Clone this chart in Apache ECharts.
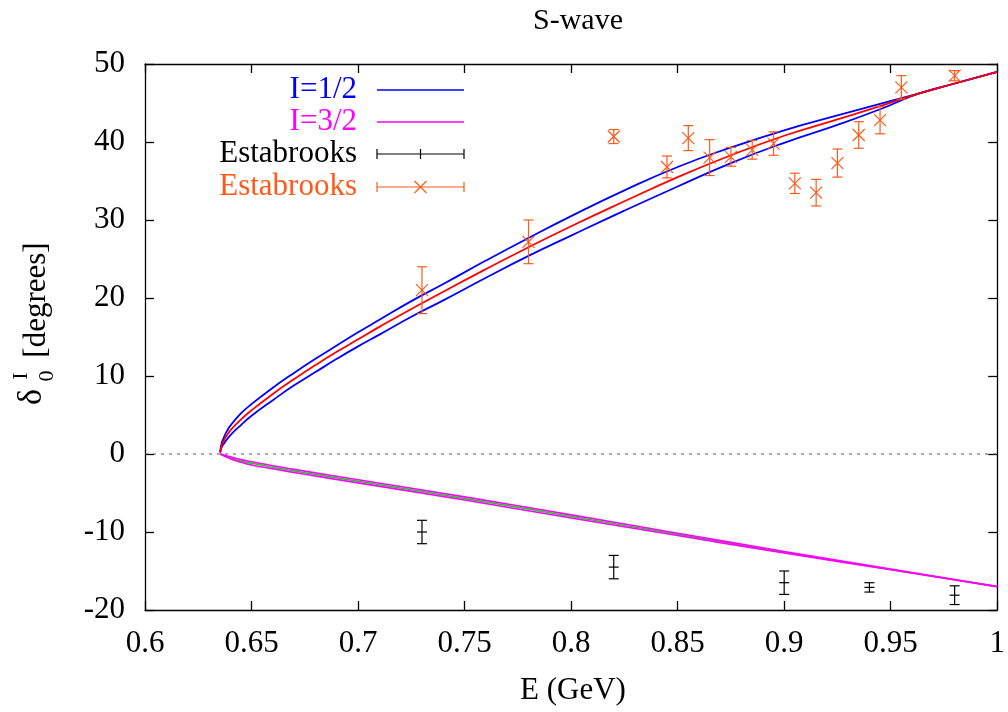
<!DOCTYPE html>
<html>
<head>
<meta charset="utf-8">
<script src="https://cdn.jsdelivr.net/npm/echarts@6/dist/echarts.min.js"></script>
<style>html,body{margin:0;padding:0;background:#fff}#c{width:1008px;height:712px}</style>
</head>
<body>
<div id="c"></div>
<script>
// ---- data ----
const curveE   = [0.6353,0.636,0.637,0.638,0.640,0.645,0.650,0.660,0.670,0.680,0.690,0.700,0.710,0.725,0.740,0.760,0.780,0.800,0.825,0.850,0.875,0.900,0.925,0.945,0.963,0.980,1.000];
const i12Upper = [0.2,1.4,2.1,2.7,3.6,5.2,6.4,8.5,10.4,12.2,13.9,15.6,17.2,19.6,21.8,24.8,27.7,30.5,33.8,36.8,39.3,41.5,43.4,44.9,46.2,47.5,49.0];
const i12Center= [0.2,1.1,1.7,2.2,3.0,4.4,5.6,7.7,9.6,11.4,13.1,14.7,16.3,18.6,20.8,23.7,26.5,29.2,32.4,35.5,38.3,40.8,42.9,44.6,46.2,47.5,49.0];
const i12Lower = [0.2,0.9,1.3,1.7,2.4,3.7,4.9,6.9,8.8,10.5,12.2,13.8,15.3,17.6,19.7,22.6,25.4,28.0,31.2,34.3,37.3,39.9,42.2,44.2,46.2,47.5,49.0];

const i32E      = [0.6353,0.640,0.645,0.650,0.660,0.675,0.700,0.750,0.800,0.850,0.900,0.950,1.000];
const i32Center = [0.0,-0.5,-0.9,-1.2,-1.7,-2.4,-3.5,-5.7,-8.0,-10.3,-12.6,-14.8,-17.0];
const i32Upper  = [0.0,-0.35,-0.72,-1.0,-1.5,-2.2,-3.3,-5.5,-7.8,-10.15,-12.5,-14.75,-17.0];
const i32Lower  = [0.0,-0.6,-1.05,-1.4,-1.9,-2.6,-3.7,-5.9,-8.2,-10.45,-12.7,-14.85,-17.0];

const estab12E   = [0.73,0.78,0.82,0.845,0.855,0.865,0.875,0.885,0.895,0.905,0.915,0.925,0.935,0.945,0.955,0.98];
const estab12Val = [21.0,27.2,40.7,36.8,40.5,38.0,38.1,39.0,39.8,34.7,33.5,37.3,40.9,42.8,47.0,48.5];
const estab12Err = [3.0,2.8,0.9,1.4,1.6,2.3,1.2,1.2,1.5,1.3,1.7,1.8,1.7,1.75,1.5,0.65];

const estab32E   = [0.73,0.82,0.90,0.94,0.98];
const estab32Val = [-10.0,-14.5,-16.5,-17.1,-18.1];
const estab32Err = [1.5,1.5,1.5,0.6,1.2];

const xTicks = {min:0.6, max:1.0, interval:0.05};
const yTicks = {min:-20, max:50, interval:10};
const legendLabels = ['I=1/2','I=3/2','Estabrooks','Estabrooks'];

// ---- chart ----
const FONT = 'Liberation Serif';
const BLUE = '#0000ff', RED = '#ff0000', MAG = '#ff00ff', GREEN = '#00dd00', ORANGE = '#ff5a1a', BLACK = '#000000';
const zip = (xs, ys) => xs.map((x,i)=>[x, ys[i]]);
const zip3 = (xs, ys, es) => xs.map((x,i)=>[x, ys[i], es[i]]);

function errRender(color, marker) {
  return function(params, api) {
    const x = api.value(0), y = api.value(1), e = api.value(2);
    const p = api.coord([x, y]);
    const t = api.coord([x, y + e]);
    const b = api.coord([x, y - e]);
    const cw = 5;
    const st = {stroke: color, lineWidth: 1.2, fill: null};
    const ch = [
      {type:'line', shape:{x1:p[0], y1:t[1], x2:p[0], y2:b[1]}, style:st},
      {type:'line', shape:{x1:p[0]-cw, y1:t[1], x2:p[0]+cw, y2:t[1]}, style:st},
      {type:'line', shape:{x1:p[0]-cw, y1:b[1], x2:p[0]+cw, y2:b[1]}, style:st}
    ];
    if (marker === 'x') {
      const m = 6;
      ch.push({type:'line', shape:{x1:p[0]-m, y1:p[1]-m, x2:p[0]+m, y2:p[1]+m}, style:st});
      ch.push({type:'line', shape:{x1:p[0]-m, y1:p[1]+m, x2:p[0]+m, y2:p[1]-m}, style:st});
    } else {
      const m = 5;
      ch.push({type:'line', shape:{x1:p[0]-m, y1:p[1], x2:p[0]+m, y2:p[1]}, style:st});
    }
    return {type:'group', children: ch};
  };
}

function lineSeries(name, data, color, width, z) {
  return {type:'line', name, data, showSymbol:false, symbol:'none', smooth:0.5,
    lineStyle:{color, width}, z: z||2, silent:true, animation:false};
}

const axisCommon = {
  axisLine:{show:true, onZero:false, lineStyle:{color:BLACK, width:1.3}},
  axisTick:{show:true, inside:true, length:9, lineStyle:{color:BLACK, width:1.3}},
  splitLine:{show:false}
};

function txt(x, y, text, color, size, rot, align) {
  const g = {type:'text', x, y, style:{text, fill:color, fontFamily:FONT, fontSize:size,
    align: align||'center', verticalAlign:'middle'}};
  if (rot) g.rotation = rot;
  return g;
}

// legend graphics
const legX1 = 377, legX2 = 464, legTextX = 357;
const legY = [90, 122, 154, 187];
const legColors = [BLUE, MAG, BLACK, ORANGE];
const graphics = [];
legendLabels.forEach((lab, i) => {
  graphics.push(txt(legTextX, legY[i], lab, legColors[i], 31, 0, 'right'));
  const y = legY[i];
  const st = {stroke: legColors[i], lineWidth: i<2 ? 1.5 : 1.2};
  graphics.push({type:'line', shape:{x1:legX1, y1:y, x2:legX2, y2:y}, style:st});
  if (i >= 2) {
    graphics.push({type:'line', shape:{x1:legX1, y1:y-5, x2:legX1, y2:y+5}, style:st});
    graphics.push({type:'line', shape:{x1:legX2, y1:y-5, x2:legX2, y2:y+5}, style:st});
    const cx = (legX1+legX2)/2;
    if (i === 2) {
      graphics.push({type:'line', shape:{x1:cx, y1:y-5, x2:cx, y2:y+5}, style:st});
    } else {
      graphics.push({type:'line', shape:{x1:cx-6, y1:y-6, x2:cx+6, y2:y+6}, style:st});
      graphics.push({type:'line', shape:{x1:cx-6, y1:y+6, x2:cx+6, y2:y-6}, style:st});
    }
  }
});
// titles / axis names
graphics.push(txt(578, 21, 'S-wave', BLACK, 30));
graphics.push(txt(573, 691, 'E (GeV)', BLACK, 31));
graphics.push(txt(37, 300, '[degrees]', BLACK, 31, Math.PI/2));
graphics.push(txt(32, 397, 'δ', BLACK, 34, Math.PI/2));
graphics.push(txt(21, 376, 'I', BLACK, 22, Math.PI/2));
graphics.push(txt(47, 376, '0', BLACK, 22, Math.PI/2));

const labelStyle = {color:BLACK, fontFamily:FONT, fontSize:31};

const option = {
  animation:false,
  backgroundColor:'#ffffff',
  grid:{left:145, right:6, top:64, bottom:102, containLabel:false},
  xAxis:[
    Object.assign({type:'value', position:'bottom', min:xTicks.min, max:xTicks.max, interval:xTicks.interval,
      axisLabel:Object.assign({margin:18, formatter:v=>String(+v.toFixed(2))}, labelStyle)}, axisCommon),
    Object.assign({type:'value', position:'top', min:xTicks.min, max:xTicks.max, interval:xTicks.interval,
      axisLabel:{show:false}}, axisCommon)
  ],
  yAxis:[
    Object.assign({type:'value', position:'left', min:yTicks.min, max:yTicks.max, interval:yTicks.interval,
      axisLabel:Object.assign({margin:20}, labelStyle)}, axisCommon),
    Object.assign({type:'value', position:'right', min:yTicks.min, max:yTicks.max, interval:yTicks.interval,
      axisLabel:{show:false}}, axisCommon)
  ],
  graphic: graphics,
  series:[
    {type:'line', name:'zero', data:[[xTicks.min,0],[xTicks.max,0]], showSymbol:false, symbol:'none',
      lineStyle:{color:'#555', width:1.2, type:[3,5]}, z:1, silent:true},
    lineSeries('I=3/2 center', zip(i32E, i32Center), GREEN, 1.5, 2),
    lineSeries('I=3/2 upper', zip(i32E, i32Upper), MAG, 1.6, 3),
    lineSeries('I=3/2 lower', zip(i32E, i32Lower), MAG, 1.6, 3),
    lineSeries('I=1/2 upper', zip(curveE, i12Upper), BLUE, 1.8, 3),
    lineSeries('I=1/2 lower', zip(curveE, i12Lower), BLUE, 1.8, 3),
    lineSeries('I=1/2 center', zip(curveE, i12Center), RED, 1.8, 4),
    {type:'custom', name:'Estabrooks I=3/2', data:zip3(estab32E, estab32Val, estab32Err),
      renderItem:errRender(BLACK,'+'), z:5, encode:{x:0, y:1}},
    {type:'custom', name:'Estabrooks I=1/2', data:zip3(estab12E, estab12Val, estab12Err),
      renderItem:errRender(ORANGE,'x'), z:5, encode:{x:0, y:1}}
  ]
};
const chart = echarts.init(document.getElementById('c'), null, {renderer:'canvas'});
chart.setOption(option);
</script>
</body>
</html>
